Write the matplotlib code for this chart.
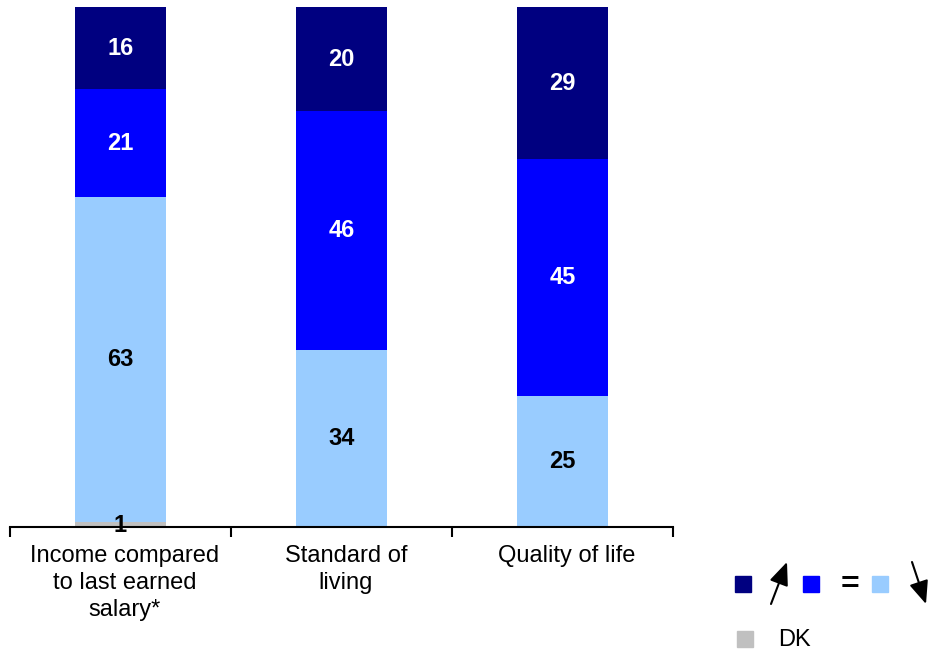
import matplotlib.pyplot as plt
from matplotlib.ticker import FixedLocator
from matplotlib.patches import FancyArrowPatch

plt.rcParams['font.family'] = ['Liberation Sans', 'DejaVu Sans']

categories = ['Income compared\nto last earned\nsalary*', 'Standard of\nliving', 'Quality of life']
dk = [1, 0, 0]
worse = [63, 34, 25]
same = [21, 46, 45]
better = [16, 20, 29]

colors = {'dk': '#C0C0C0', 'worse': '#99CCFF', 'same': '#0000FF', 'better': '#000080'}

# 100% stacked: scale each column by its total
totals = [a + b + c + d for a, b, c, d in zip(dk, worse, same, better)]

fig = plt.figure(figsize=(9.41, 6.52), dpi=100)
ax = fig.add_axes([10 / 941, 125 / 652, 663 / 941, 520 / 652])

x = list(range(len(categories)))
width = 0.41
bottom = [0] * len(x)
segments = [(dk, 'dk', 'black'), (worse, 'worse', 'black'),
            (same, 'same', 'white'), (better, 'better', 'white')]
for vals, key, tcol in segments:
    share = [v * 100 / t for v, t in zip(vals, totals)]
    ax.bar(x, share, width, bottom=bottom, color=colors[key], linewidth=0)
    for i, v in enumerate(vals):
        if v > 0:
            yc = bottom[i] + share[i] / 2
            if key == 'dk':
                yc = bottom[i] + 0.2
            ax.text(x[i], yc, str(v), ha='center', va='center', color=tcol,
                    fontsize=17, fontweight='bold', clip_on=False, zorder=5)
    bottom = [b + s for b, s in zip(bottom, share)]

ax.set_xlim(-0.5, 2.5)
ax.set_ylim(0, 100)
for s in ['left', 'right', 'top']:
    ax.spines[s].set_visible(False)
ax.spines['bottom'].set_linewidth(1.5)
ax.set_yticks([])
ax.set_xticks([])
ax.xaxis.set_minor_locator(FixedLocator([-0.5, 0.5, 1.5, 2.5]))
ax.tick_params(axis='x', which='minor', length=7, width=1.5, direction='out')
for i, c in enumerate(categories):
    ax.text(x[i] + 0.02, -3.5, c, ha='center', va='top', fontsize=17, linespacing=1.3)

# legend
def sq(px, py, col):
    fig.patches.append(plt.Rectangle((px / 941, 1 - (py + 16) / 652), 16 / 941, 16 / 652,
                                     transform=fig.transFigure, color=col))

sq(735, 576, colors['better'])
sq(803, 576, colors['same'])
sq(872, 576, colors['worse'])
sq(737, 631, colors['dk'])
fig.text(850 / 941, 1 - 585 / 652, '=', ha='center', va='center', fontsize=23, fontweight='bold')
fig.text(778 / 941, 1 - 640 / 652, 'DK', ha='left', va='center', fontsize=17)

def arrow(x0, y0, x1, y1):
    fig.patches.append(FancyArrowPatch((x0 / 941, 1 - y0 / 652), (x1 / 941, 1 - y1 / 652),
                                       transform=fig.transFigure,
                                       arrowstyle='-|>,head_length=1.0,head_width=0.42',
                                       mutation_scale=14, color='black', lw=1.5,
                                       shrinkA=0, shrinkB=0))

arrow(771, 604, 787, 562)
arrow(912, 562, 926, 604)

fig.savefig('out.png', dpi=100)
